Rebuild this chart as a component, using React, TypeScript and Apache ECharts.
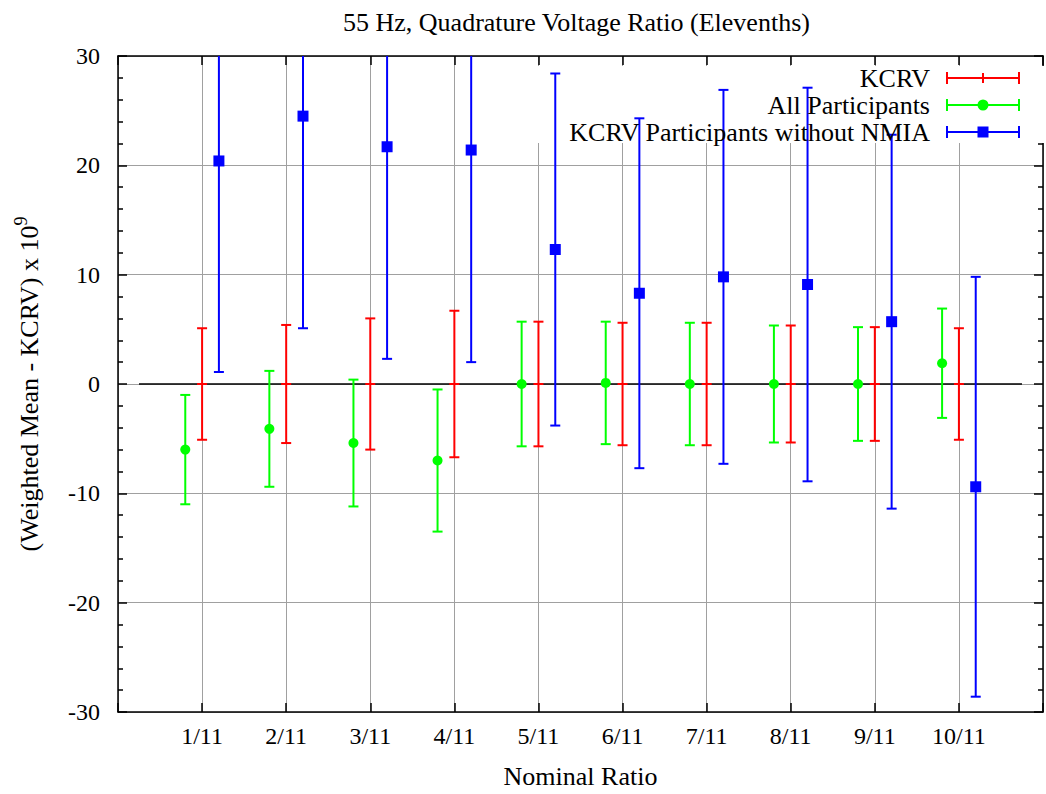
import React, { useEffect, useRef } from "react";
import * as echarts from "echarts";

const FONT = '"Liberation Serif", "Times New Roman", serif';

// Category tick labels (nominal ratios at x = 1..10)
const ratioLabels = ["1/11", "2/11", "3/11", "4/11", "5/11", "6/11", "7/11", "8/11", "9/11", "10/11"];

// KCRV (reference, centered at zero)
const kcrvValues = [0, 0, 0, 0, 0, 0, 0, 0, 0, 0];
const kcrvUnc = [5.1, 5.4, 6.0, 6.7, 5.7, 5.6, 5.6, 5.35, 5.2, 5.1];

// All participants
const allValues = [-6.0, -4.1, -5.4, -7.0, 0.0, 0.1, 0.0, 0.0, 0.0, 1.9];
const allUnc = [5.0, 5.3, 5.8, 6.5, 5.7, 5.6, 5.6, 5.35, 5.2, 5.0];

// KCRV participants without NMIA
const noNmiaValues = [20.4, 24.5, 21.7, 21.4, 12.3, 8.3, 9.8, 9.1, 5.7, -9.4];
const noNmiaUnc = [19.3, 19.4, 19.4, 19.4, 16.1, 16.0, 17.1, 18.0, 17.1, 19.2];

const seriesNames = ["KCRV", "All Participants", "KCRV Participants without NMIA"];

// Zero reference line extent (x-units)
const zeroLineX = [0.25, 10.75];

const Y_MIN = -30;
const Y_MAX = 30;

const toBars = (vals: number[], unc: number[]) =>
  vals.map((v, i) => [i + 1, v, v - unc[i], v + unc[i]]);

function errorBarRenderer(offset: number, marker: "plus" | "circle" | "square", color: string) {
  return (params: any, api: any) => {
    const xv = api.value(0) + offset;
    const v = api.value(1);
    const lo = api.value(2);
    const hi = api.value(3);
    const loC = Math.max(lo, Y_MIN);
    const hiC = Math.min(hi, Y_MAX);
    const pLo = api.coord([xv, loC]);
    const pHi = api.coord([xv, hiC]);
    const pV = api.coord([xv, v]);
    const x = pLo[0];
    const cw = 5;
    const st = { stroke: color, lineWidth: 2 };
    const children: any[] = [
      { type: "line", shape: { x1: x, y1: pLo[1], x2: x, y2: pHi[1] }, style: st },
    ];
    if (lo >= Y_MIN) children.push({ type: "line", shape: { x1: x - cw, y1: pLo[1], x2: x + cw, y2: pLo[1] }, style: st });
    if (hi <= Y_MAX) children.push({ type: "line", shape: { x1: x - cw, y1: pHi[1], x2: x + cw, y2: pHi[1] }, style: st });
    if (v >= Y_MIN && v <= Y_MAX) {
      if (marker === "plus") {
        children.push({ type: "line", shape: { x1: x - 5, y1: pV[1], x2: x + 5, y2: pV[1] }, style: st });
      } else if (marker === "circle") {
        children.push({ type: "circle", shape: { cx: x, cy: pV[1], r: 5 }, style: { fill: color } });
      } else {
        children.push({ type: "rect", shape: { x: x - 5.5, y: pV[1] - 5.5, width: 11, height: 11 }, style: { fill: color } });
      }
    }
    return { type: "group", children };
  };
}

const iconBar = "M0,0h2v12H0z M72,0h2v12h-2z M0,5h74v2H0z";
const iconPlus = "path://" + iconBar + " M36,1h2v10h-2z";
const iconCircle = "path://" + iconBar + " M31.5,6a5.5,5.5 0 1,1 11,0a5.5,5.5 0 1,1 -11,0z";
const iconSquare = "path://" + iconBar + " M31.5,0.5h11v11h-11z";

export default function App() {
  const ref = useRef<HTMLDivElement>(null);

  useEffect(() => {
    if (!ref.current) return;
    const chart = echarts.init(ref.current, undefined, { renderer: "svg" });

    const axisLine = { show: true, onZero: false, lineStyle: { color: "#000", width: 1.5 } };
    const gridLine = { show: true, lineStyle: { color: "#a0a0a0", width: 1 } };
    const tick = { show: true, inside: true, length: 9, lineStyle: { color: "#000", width: 1.5 } };
    const minor = { show: true, splitNumber: 5, length: 5, lineStyle: { color: "#000", width: 1.5 } };

    const option: any = {
      animation: false,
      backgroundColor: "#fff",
      color: ["#ff0000", "#00ff00", "#0000ff"],
      textStyle: { fontFamily: FONT },
      title: {
        text: "55 Hz, Quadrature Voltage Ratio (Elevenths)",
        left: 338,
        top: 4,
        textStyle: { fontFamily: FONT, fontSize: 26, fontWeight: "normal", color: "#000" },
      },
      grid: { left: 118, right: -5, top: 56, bottom: 81, containLabel: false },
      legend: {
        orient: "vertical",
        right: 21,
        top: 60,
        align: "right",
        itemWidth: 74,
        itemHeight: 12,
        itemGap: 1,
        selectedMode: false,
        textStyle: { fontFamily: FONT, fontSize: 26, color: "#000", lineHeight: 25, padding: [0, 11, 0, 0] },
        data: [
          { name: seriesNames[0], icon: iconPlus },
          { name: seriesNames[1], icon: iconCircle },
          { name: seriesNames[2], icon: iconSquare },
        ],
      },
      xAxis: [
        {
          type: "value",
          min: 0,
          max: 11,
          interval: 1,
          position: "bottom",
          axisLine,
          axisTick: tick,
          axisLabel: {
            margin: 12,
            fontFamily: FONT,
            fontSize: 24,
            color: "#000",
            formatter: (v: number) => ratioLabels[v - 1] ?? "",
          },
          splitLine: gridLine,
          name: "Nominal Ratio",
          nameLocation: "middle",
          nameGap: 51,
          nameTextStyle: { fontFamily: FONT, fontSize: 26, color: "#000" },
        },
        {
          type: "value",
          min: 0,
          max: 11,
          interval: 1,
          position: "top",
          axisLine,
          axisTick: tick,
          axisLabel: { show: false },
          splitLine: { show: false },
        },
      ],
      yAxis: [
        {
          type: "value",
          min: Y_MIN,
          max: Y_MAX,
          interval: 10,
          position: "left",
          axisLine,
          axisTick: tick,
          minorTick: minor,
          axisLabel: { margin: 18, fontFamily: FONT, fontSize: 24, color: "#000" },
          splitLine: gridLine,
          name: "{a|(Weighted Mean - KCRV) x 10}{s|9}",
          nameLocation: "middle",
          nameRotate: 90,
          nameGap: 76,
          nameTextStyle: {
            color: "#000",
            rich: {
              a: { fontFamily: FONT, fontSize: 26, lineHeight: 30, verticalAlign: "bottom", color: "#000" },
              s: { fontFamily: FONT, fontSize: 18, lineHeight: 18, verticalAlign: "top", color: "#000" },
            },
          },
        },
        {
          type: "value",
          min: Y_MIN,
          max: Y_MAX,
          interval: 10,
          position: "right",
          axisLine,
          axisTick: tick,
          minorTick: minor,
          axisLabel: { show: false },
          splitLine: { show: false },
        },
      ],
      graphic: [
        {
          type: "rect",
          z: 1,
          silent: true,
          shape: { x: 520, y: 66, width: 540, height: 77 },
          style: { fill: "#fff" },
        },
      ],
      series: [
        {
          type: "line",
          name: "zero",
          data: zeroLineX.map((x) => [x, 0]),
          showSymbol: false,
          symbol: "none",
          lineStyle: { color: "#000", width: 1.5 },
          z: 2,
          silent: true,
        },
        {
          type: "custom",
          name: seriesNames[0],
          itemStyle: { color: "#ff0000" },
          renderItem: errorBarRenderer(0, "plus", "#ff0000"),
          encode: { x: 0, y: [1, 2, 3] },
          data: toBars(kcrvValues, kcrvUnc),
          z: 3,
        },
        {
          type: "custom",
          name: seriesNames[1],
          itemStyle: { color: "#00ff00" },
          renderItem: errorBarRenderer(-0.2, "circle", "#00ff00"),
          encode: { x: 0, y: [1, 2, 3] },
          data: toBars(allValues, allUnc),
          z: 3,
        },
        {
          type: "custom",
          name: seriesNames[2],
          itemStyle: { color: "#0000ff" },
          renderItem: errorBarRenderer(0.2, "square", "#0000ff"),
          encode: { x: 0, y: [1, 2, 3] },
          data: toBars(noNmiaValues, noNmiaUnc),
          z: 3,
        },
      ],
    };

    chart.setOption(option);
    return () => chart.dispose();
  }, []);

  return (
    <div
      ref={ref}
      style={{ position: "fixed", left: 0, top: 0, width: 1046, height: 794, background: "#fff" }}
    />
  );
}
